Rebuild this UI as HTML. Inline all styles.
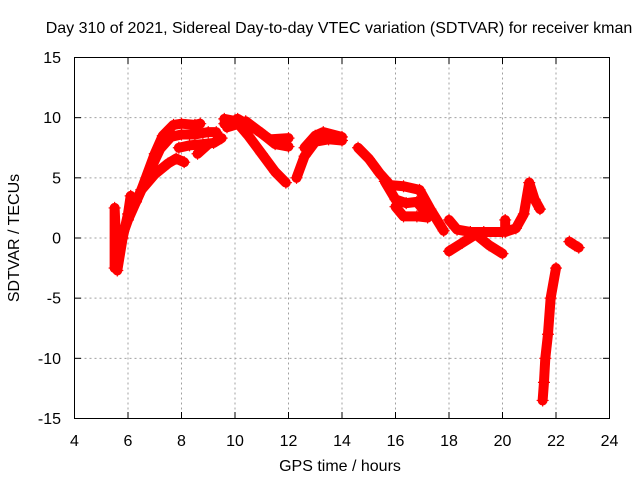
<!DOCTYPE html>
<html><head><meta charset="utf-8"><style>
body{margin:0;background:#fff}
svg{display:block;font-family:"Liberation Sans",sans-serif}
</style></head><body>
<svg id="c" width="640" height="480">
<text x="339" y="33" text-anchor="middle" font-size="16" fill="#000">Day 310 of 2021, Sidereal Day-to-day VTEC variation (SDTVAR) for receiver kman</text>
<text x="340" y="471" text-anchor="middle" font-size="16" fill="#000">GPS time / hours</text>
<text transform="translate(19,238) rotate(-90)" text-anchor="middle" font-size="16" fill="#000">SDTVAR / TECUs</text>
<g id="grid"></g>
<g id="marks"></g>
<rect x="74.5" y="57.5" width="535" height="361" fill="none" stroke="#000" stroke-width="1"/>
<g id="ticks"></g>
</svg>
<script>
const xTicks=[4,6,8,10,12,14,16,18,20,22,24];
const yTicks=[15,10,5,0,-5,-10,-15];
const track1=[[5.6,-1],[6,1.5],[6.5,4],[7,7],[7.3,8.5],[7.7,9.4],[8,9.5],[8.5,9.4],[8.7,9.5]];
const track2=[[6.3,3],[6.8,5.5],[7.2,7.4],[7.6,8.4],[8,8.6],[8.5,8.6],[9,8.8],[9.3,8.8]];
const track3=[[6.5,4],[7,5.3],[7.5,6.2],[7.8,6.6],[8.1,6.3]];
const track4=[[7.9,7.5],[8.3,7.7],[8.8,7.8],[9.2,7.9],[9.5,8.3]];
const track5=[[8.6,7],[9,7.8]];
const track6=[[5.5,-2.5],[5.5,2.5],[5.6,-2.7],[5.8,0],[6,2],[6.1,3.5]];
const track7=[[9.6,9.5],[10,9.8],[10.5,8.5],[11,7],[11.5,5.5],[11.9,4.6]];
const track8=[[10.1,9.9],[10.8,9],[11.3,8.2],[12,8.3]];
const track9=[[10.4,9.7],[11,8.7],[11.5,7.8],[12,7.6]];
const track10=[[12.3,5],[12.6,6.8],[13,8],[13.5,8.2],[14,8.1]];
const track11=[[12.6,7.5],[13,8.5],[13.3,8.8],[14,8.4]];
const track12=[[14.6,7.5],[15,6.6],[15.4,5.4],[15.8,4.4],[16.3,4.3],[16.9,4],[17.3,2.4],[17.8,0.6]];
const track13=[[15.6,4.7],[16,3.2],[16.4,2.9],[16.8,3],[17.1,2.2]];
const track14=[[16,2.6],[16.3,1.8],[16.8,1.8],[17.2,1.7]];
const track15=[[18,1.5],[18.3,0.7],[18.8,0.5],[19.3,0.5],[20,0.5]];
const track16=[[18,-1.1],[18.5,-0.4],[19,0.3],[19.5,-0.6],[20,-1.3]];
const track17=[[20.1,1.5],[20.1,0.5],[20.5,0.8],[20.8,2],[21,4.6],[21.2,3.2],[21.4,2.4]];
const track18=[[22,-2.5],[21.8,-5],[21.7,-8],[21.6,-10],[21.55,-12],[21.5,-13.5]];
const track19=[[22.5,-0.3],[22.7,-0.6],[22.85,-0.8]];
const track20=[[9.7,9.2],[10.3,9.6],[9.6,9.9]];
const tracks=[track1,track2,track3,track4,track5,track6,track7,track8,track9,track10,track11,track12,track13,track14,track15,track16,track17,track18,track19,track20];
const X=v=>74.5+(v-4)*26.75, Y=v=>57.5+(15-v)*12.033;
const NS='http://www.w3.org/2000/svg';
function mk(t,a,p){const e=document.createElementNS(NS,t);for(const k in a)e.setAttribute(k,a[k]);p.appendChild(e);return e;}
const grid=document.getElementById('grid'),ticks=document.getElementById('ticks'),marks=document.getElementById('marks');
xTicks.forEach(t=>{
  const x=X(t);
  if(t>4&&t<24){const g=mk('line',{x1:x,x2:x,y1:57.5,y2:418.5,stroke:'#a0a0a0','stroke-dasharray':'2,3'},grid);
  
  }
  const l=mk('line',{x1:x,x2:x,y1:418.5,y2:412,stroke:'#000'},ticks);
  
  
  const l2=mk('line',{x1:x,x2:x,y1:57.5,y2:64,stroke:'#000'},ticks);
  
  
  const tx=mk('text',{x:x,y:446,'text-anchor':'middle','font-size':'16'},ticks);tx.textContent=t;
  
  
});
yTicks.forEach(t=>{
  const y=Y(t);
  if(t<15&&t>-15){const g=mk('line',{x1:74.5,x2:609.5,y1:y,y2:y,stroke:'#a0a0a0','stroke-dasharray':'2,3'},grid);
  
  }
  const l=mk('line',{x1:74.5,x2:81,y1:y,y2:y,stroke:'#000'},ticks);
  
  
  const l2=mk('line',{x1:603,x2:609.5,y1:y,y2:y,stroke:'#000'},ticks);
  
  
  const tx=mk('text',{x:61,y:y+5.5,'text-anchor':'end','font-size':'16'},ticks);tx.textContent=t;
  
  
});
tracks.forEach((tr,i)=>{
  const p=mk('polyline',{points:tr.map(d=>X(d[0])+','+Y(d[1])).join(' '),fill:'none',stroke:'#ff0000','stroke-width':10,'stroke-linejoin':'round','stroke-linecap':'round'},marks);
  
  
  tr.forEach(d=>{
    const x=X(d[0]),y=Y(d[1]);
    const m=mk('path',{d:`M${x-6},${y}H${x+6}M${x},${y-6}V${y+6}`,stroke:'#ff0000','stroke-width':1.2},marks);
    
    
  });
});
</script>
</body></html>
